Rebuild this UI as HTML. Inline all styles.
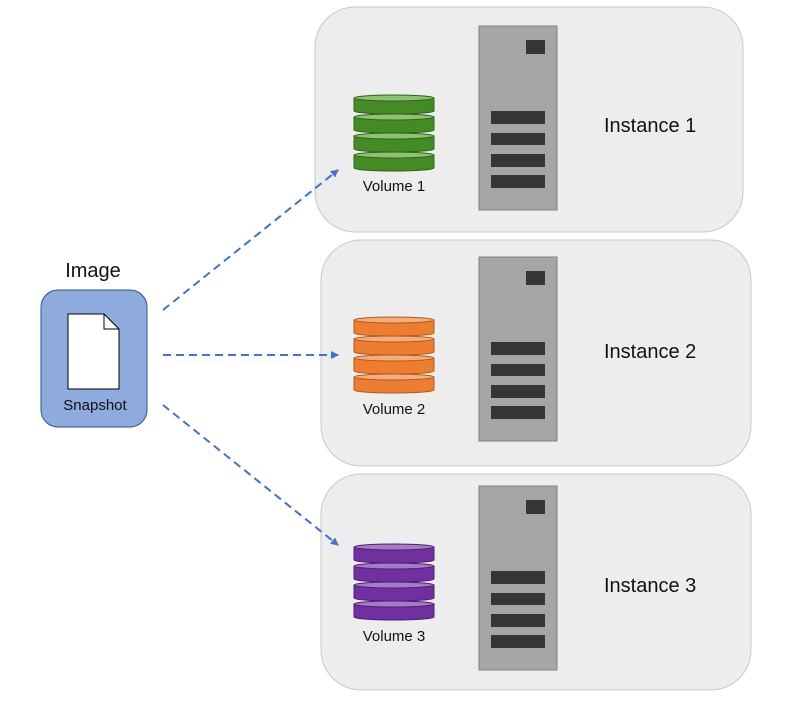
<!DOCTYPE html>
<html><head><meta charset="utf-8"><style>body{margin:0;background:#fff}svg{display:block}text{font-family:"Liberation Sans",sans-serif;fill:#111}</style></head><body>
<svg width="795" height="709" viewBox="0 0 795 709" xmlns="http://www.w3.org/2000/svg">
<defs>
<marker id="ah" markerWidth="8" markerHeight="8" refX="7" refY="4" orient="auto" markerUnits="userSpaceOnUse"><path d="M0,0 L8,4 L0,8 Z" fill="#4472c4"/></marker>
<g id="srv"><rect x="0" y="0" width="78" height="184" fill="#a6a6a6" stroke="#7f7f7f"/><rect x="47" y="14" width="19" height="14" fill="#363636"/><rect x="12" y="85" width="54" height="13" fill="#363636"/><rect x="12" y="107" width="54" height="12" fill="#363636"/><rect x="12" y="128" width="54" height="13" fill="#363636"/><rect x="12" y="149" width="54" height="13" fill="#363636"/></g>
</defs>
<rect x="315" y="7" width="428" height="225" rx="40" fill="#ededed" stroke="#c8c8c8"/>
<rect x="321" y="240" width="430" height="226" rx="40" fill="#ededed" stroke="#c8c8c8"/>
<rect x="321" y="474" width="430" height="216" rx="40" fill="#ededed" stroke="#c8c8c8"/>
<use href="#srv" x="479" y="26"/>
<use href="#srv" x="479" y="257"/>
<use href="#srv" x="479" y="486"/>

<g stroke="#2e6419">
<path d="M354,155 L354,168 A40,3 0 0 0 434,168 L434,155 Z" fill="#448b25"/><ellipse cx="394" cy="155" rx="40" ry="3" fill="#8fc074"/>
<path d="M354,136 L354,149 A40,3 0 0 0 434,149 L434,136 Z" fill="#448b25"/><ellipse cx="394" cy="136" rx="40" ry="3" fill="#8fc074"/>
<path d="M354,117 L354,130 A40,3 0 0 0 434,130 L434,117 Z" fill="#448b25"/><ellipse cx="394" cy="117" rx="40" ry="3" fill="#8fc074"/>
<path d="M354,98 L354,111 A40,3 0 0 0 434,111 L434,98 Z" fill="#448b25"/><ellipse cx="394" cy="98" rx="40" ry="3" fill="#8fc074"/>
</g>
<g stroke="#b25a1c">
<path d="M354,377 L354,390 A40,3 0 0 0 434,390 L434,377 Z" fill="#ed7d31"/><ellipse cx="394" cy="377" rx="40" ry="3" fill="#f4ad7f"/>
<path d="M354,358 L354,371 A40,3 0 0 0 434,371 L434,358 Z" fill="#ed7d31"/><ellipse cx="394" cy="358" rx="40" ry="3" fill="#f4ad7f"/>
<path d="M354,339 L354,352 A40,3 0 0 0 434,352 L434,339 Z" fill="#ed7d31"/><ellipse cx="394" cy="339" rx="40" ry="3" fill="#f4ad7f"/>
<path d="M354,320 L354,333 A40,3 0 0 0 434,333 L434,320 Z" fill="#ed7d31"/><ellipse cx="394" cy="320" rx="40" ry="3" fill="#f4ad7f"/>
</g>
<g stroke="#4e1f73">
<path d="M354,604 L354,617 A40,3 0 0 0 434,617 L434,604 Z" fill="#7030a0"/><ellipse cx="394" cy="604" rx="40" ry="3" fill="#a57cc4"/>
<path d="M354,585 L354,598 A40,3 0 0 0 434,598 L434,585 Z" fill="#7030a0"/><ellipse cx="394" cy="585" rx="40" ry="3" fill="#a57cc4"/>
<path d="M354,566 L354,579 A40,3 0 0 0 434,579 L434,566 Z" fill="#7030a0"/><ellipse cx="394" cy="566" rx="40" ry="3" fill="#a57cc4"/>
<path d="M354,547 L354,560 A40,3 0 0 0 434,560 L434,547 Z" fill="#7030a0"/><ellipse cx="394" cy="547" rx="40" ry="3" fill="#a57cc4"/>
</g>
<text x="394" y="191" font-size="15" text-anchor="middle">Volume 1</text>
<text x="394" y="414" font-size="15" text-anchor="middle">Volume 2</text>
<text x="394" y="641" font-size="15" text-anchor="middle">Volume 3</text>
<text x="604" y="132" font-size="20">Instance 1</text>
<text x="604" y="358" font-size="20">Instance 2</text>
<text x="604" y="592" font-size="20">Instance 3</text>
<text x="93" y="277" font-size="20" text-anchor="middle">Image</text>
<rect x="41" y="290" width="106" height="137" rx="17" fill="#8faadc" stroke="#2f528f"/>
<path d="M68,314 L104,314 L119,329 L119,389 L68,389 Z" fill="#fff" stroke="#000"/>
<path d="M104,314 L104,329 L119,329" fill="none" stroke="#000"/>
<text x="95" y="410" font-size="15" text-anchor="middle">Snapshot</text>
<g stroke="#4472c4" stroke-width="2" stroke-dasharray="8,5" fill="none">
<line x1="163" y1="310" x2="338" y2="170" marker-end="url(#ah)"/>
<line x1="163" y1="355" x2="338" y2="355" marker-end="url(#ah)"/>
<line x1="163" y1="405" x2="338" y2="545" marker-end="url(#ah)"/>
</g>
</svg>
</body></html>
